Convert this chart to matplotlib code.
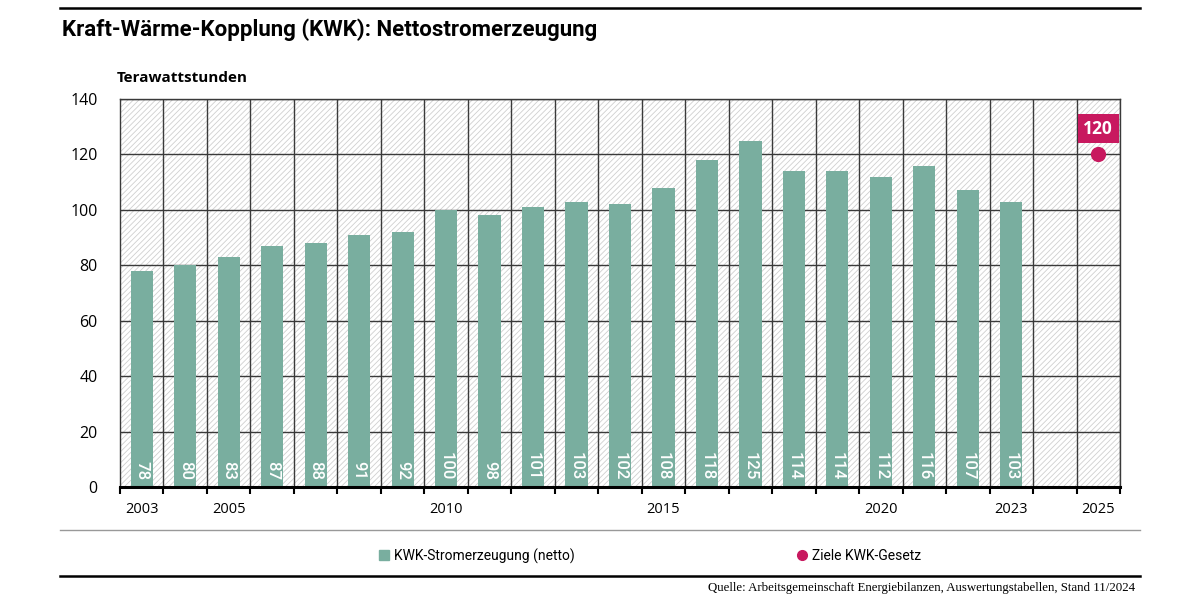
import matplotlib
matplotlib.use("Agg")
import matplotlib.pyplot as plt
from matplotlib.patches import Rectangle
from matplotlib.lines import Line2D
import numpy as np

# Daten
jahre = list(range(2003, 2026))
kwk_netto = [78, 80, 83, 87, 88, 91, 92, 100, 98, 101, 103, 102, 108, 118, 125,
             114, 114, 112, 116, 107, 103, None, None]
ziel_jahr = 2025
ziel_wert = 120
tick_jahre = [2003, 2005, 2010, 2015, 2020, 2023, 2025]

gruen = "#79ae9f"
magenta = "#c8195f"

plt.rcParams['font.family'] = ['Open Sans', 'DejaVu Sans']
plt.rcParams['hatch.linewidth'] = 0.6
plt.rcParams['hatch.color'] = '#cfcfcf'

fig = plt.figure(figsize=(12, 6.02), dpi=100)
ax = fig.add_axes([120 / 1200, 115 / 602, 1000 / 1200, 388 / 602])

x = np.arange(len(jahre))
ax.set_xlim(-0.5, len(jahre) - 0.5)
ax.set_ylim(0, 140)

# schraffierter Hintergrund
ax.add_patch(Rectangle((0, 0), 1, 1, transform=ax.transAxes, facecolor='white',
                       edgecolor='#cfcfcf', hatch='//////', linewidth=0, zorder=0))

# Gitter
for b in np.arange(-0.5, len(jahre), 1.0)[1:]:
    ax.axvline(b, color='#3a3a3a', lw=1.0, zorder=1)
for yv in range(20, 141, 20):
    ax.axhline(yv, color='#3a3a3a', lw=1.0, zorder=1)

# Balken
for xi, v in zip(x, kwk_netto):
    if v is None:
        continue
    ax.bar(xi, v, width=0.51, color=gruen, zorder=2)
    ax.text(xi, 2.5, str(v), rotation=270, ha='center', va='bottom', color='white',
            fontsize=12, fontweight='medium', family=['Roboto', 'DejaVu Sans'], zorder=3)

# Ziel
xz = jahre.index(ziel_jahr)
ax.scatter([xz], [ziel_wert], s=120, color=magenta, zorder=4, linewidths=0)
ax.text(xz, ziel_wert + 9.3, str(ziel_wert), ha='center', va='center', color='white',
        fontsize=12.5, fontweight='bold', zorder=5,
        bbox=dict(boxstyle='square,pad=0.32', facecolor=magenta, edgecolor='none'))

# Achsen
for s in ['top', 'right', 'left']:
    ax.spines[s].set_color('#3a3a3a')
    ax.spines[s].set_linewidth(1.0)
ax.spines['bottom'].set_linewidth(2.2)
ax.spines['bottom'].set_color('black')

ax.set_yticks(range(0, 141, 20))
ax.tick_params(axis='y', length=0, labelsize=11.5, pad=16)
ax.set_xticks(np.arange(-0.5, len(jahre), 1.0), minor=True)
ax.set_xticks([jahre.index(j) for j in tick_jahre])
ax.set_xticklabels([str(j) for j in tick_jahre])
ax.tick_params(axis='x', which='major', length=0, labelsize=10.5, pad=11)
ax.tick_params(axis='x', which='minor', length=5, width=1.5, direction='out')

# Texte
fig.text(62 / 1200, 1 - 30 / 602, "Kraft-Wärme-Kopplung (KWK): Nettostromerzeugung",
         fontsize=16, fontweight='bold', family=['Roboto', 'DejaVu Sans'],
         va='center', ha='left')
fig.text(117 / 1200, 1 - 78 / 602, "Terawattstunden", fontsize=11, fontweight='bold',
         va='center', ha='left')
fig.text(1135 / 1200, 1 - 588 / 602,
         "Quelle: Arbeitsgemeinschaft Energiebilanzen, Auswertungstabellen, Stand 11/2024",
         fontsize=9.3, family=['Liberation Serif', 'DejaVu Serif'], ha='right', va='center')

# Linien
fig.add_artist(Line2D([60 / 1200, 1140 / 1200], [1 - 8 / 602] * 2, color='black', lw=1.8))
fig.add_artist(Line2D([60 / 1200, 1140 / 1200], [1 - 530 / 602] * 2, color='#999999', lw=1.0))
fig.add_artist(Line2D([60 / 1200, 1140 / 1200], [1 - 576 / 602] * 2, color='black', lw=1.8))

# Legende
h1 = Line2D([], [], marker='s', color=gruen, linestyle='none', markersize=7)
h2 = Line2D([], [], marker='o', color=magenta, linestyle='none', markersize=7)
fig.legend([h1, h2], ["KWK-Stromerzeugung (netto)", "Ziele KWK-Gesetz"], ncol=2,
           loc='center left', bbox_to_anchor=(366 / 1200, 1 - 556 / 602), frameon=False,
           prop={'family': ['Roboto', 'DejaVu Sans'], 'size': 10},
           handlelength=0.8, handletextpad=0.3, columnspacing=16)

fig.savefig("out.png", dpi=100)
